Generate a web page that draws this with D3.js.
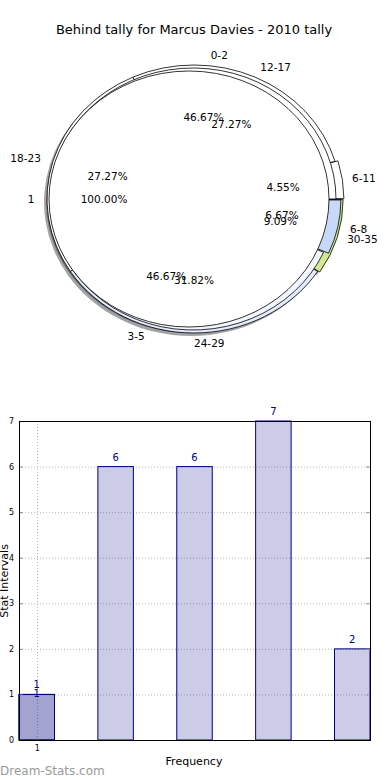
<!DOCTYPE html>
<html>
<head>
<meta charset="utf-8">
<script src="https://cdnjs.cloudflare.com/ajax/libs/d3/7.8.5/d3.min.js"></script>
<style>
  body { margin: 0; background: #fff; }
  svg { display: block; font-family: "DejaVu Sans", sans-serif; }
</style>
</head>
<body>
<div id="chart"></div>
<script>
const title = 'Behind tally for Marcus Davies - 2010 tally'

// pie rings (inner -> outer)
const innerLabels = ['1']
const innerValues = [1]
const midLabels = ['0-2', '3-5', '6-8']
const midValues = [7, 7, 1]
const outerLabels = ['6-11', '12-17', '18-23', '24-29', '30-35']
const outerValues = [1, 6, 6, 7, 2]

// bar chart
const barValues = [1, 6, 6, 7, 2]
const overlayValues = [1]
const xTickLabels = ['1']
const yTicks = [0, 1, 2, 3, 4, 5, 6, 7]
const xLabel = 'Frequency'
const yLabel = 'Stat Intervals'

const W = 390, H = 780
const navy = '#000080'

const svg = d3.select('#chart').append('svg')
  .attr('width', W)
  .attr('height', H)

svg.append('text')
  .attr('x', 194).attr('y', 34)
  .attr('text-anchor', 'middle')
  .attr('font-size', 13)
  .text(title)

// ---- pie ----
// layers drawn outermost first, each a full pie slightly smaller than the last
let layers = [
  {labels: outerLabels, values: outerValues, cx: 194, cy: 199, rx: 147, ry: 134,
    fills: ['#fff', '#fff', '#fff', '#e3ebfc', '#d3e98f'], explode: [0.02, 0, 0, 0, 0.015]},
  {labels: midLabels, values: midValues, cx: 193, cy: 199, rx: 143, ry: 131,
    fills: ['#fff', '#f3f6ff', '#c6d9f9'], explode: [0, 0, 0.035]},
  {labels: innerLabels, values: innerValues, cx: 189, cy: 199, rx: 140, ry: 128,
    fills: ['#fff'], explode: [0]}
]
// where the texts sit
let lab = {cx: 194, cy: 198.5, rx: 150, ry: 136}

let pie = d3.pie().sort(null).startAngle(Math.PI / 2).endAngle(Math.PI / 2 - 2 * Math.PI)
let arc = d3.arc().innerRadius(0).outerRadius(100)
let mid = d => (d.startAngle + d.endAngle) / 2

layers.forEach(l => { l.arcs = pie(l.values) })

let offset = (l, d, i) => {
  let a = mid(d), e = l.explode[i]
  return [l.cx + e * l.rx * Math.sin(a), l.cy - e * l.ry * Math.cos(a)]
}

// shadows under everything
let shadowG = svg.append('g')
layers.forEach(l => {
  shadowG.selectAll(null)
    .data(l.arcs)
    .enter()
    .append('path')
    .attr('d', arc)
    .attr('transform', (d, i) => {
      let [x, y] = offset(l, d, i)
      return `translate(${x - 3},${y + 3}) scale(${l.rx / 100},${l.ry / 100})`
    })
    .attr('fill', (d, i) => {
      let c = d3.rgb(l.fills[i])
      return d3.rgb(c.r * 0.3, c.g * 0.3, c.b * 0.3)
    })
    .attr('fill-opacity', 0.5)
})

layers.forEach(l => {
  svg.append('g').selectAll(null)
    .data(l.arcs)
    .enter()
    .append('path')
    .attr('d', arc)
    .attr('transform', (d, i) => {
      let [x, y] = offset(l, d, i)
      return `translate(${x},${y}) scale(${l.rx / 100},${l.ry / 100})`
    })
    .attr('fill', (d, i) => l.fills[i])
    .attr('stroke', '#000')
    .attr('stroke-width', 0.8)
    .attr('vector-effect', 'non-scaling-stroke')
})

let pct = d3.format('.2f')
layers.forEach(l => {
  let total = d3.sum(l.values)
  let g = svg.append('g').attr('font-size', 10.5)
  l.arcs.forEach((d, i) => {
    let a = mid(d), s = Math.sin(a), c = Math.cos(a)
    g.append('text')
      .attr('x', lab.cx + 1.064 * lab.rx * s)
      .attr('y', lab.cy - 1.064 * lab.ry * c)
      .attr('text-anchor', s > -1e-9 ? 'start' : 'end')
      .attr('dominant-baseline', 'central')
      .text(l.labels[i])
    g.append('text')
      .attr('x', lab.cx + 0.6 * lab.rx * s)
      .attr('y', lab.cy - 0.6 * lab.ry * c)
      .attr('text-anchor', 'middle')
      .attr('dominant-baseline', 'central')
      .text(pct(l.values[i] / total * 100) + '%')
  })
})

// ---- bar chart ----
let m = {left: 19, right: 370, top: 421, bottom: 740}
let barW = 0.45
let x = d3.scaleLinear().domain([0, barValues.length - 1 + barW]).range([m.left, m.right])
let y = d3.scaleLinear().domain([0, 7]).range([m.bottom, m.top])

let grid = svg.append('g')
  .attr('stroke', '#b8b8b8')
  .attr('stroke-dasharray', '1,2')
grid.selectAll(null)
  .data(yTicks.slice(1, -1))
  .enter()
  .append('line')
  .attr('x1', m.left).attr('x2', m.right)
  .attr('y1', d => y(d) + 0.5).attr('y2', d => y(d) + 0.5)
grid.selectAll(null)
  .data(xTickLabels)
  .enter()
  .append('line')
  .attr('x1', (d, i) => Math.round(x(i + barW / 2)) + 0.5)
  .attr('x2', (d, i) => Math.round(x(i + barW / 2)) + 0.5)
  .attr('y1', m.top).attr('y2', m.bottom)

svg.append('g').selectAll(null)
  .data(barValues)
  .enter()
  .append('rect')
  .attr('x', (d, i) => x(i))
  .attr('y', d => y(d))
  .attr('width', (d, i) => x(i + barW) - x(i))
  .attr('height', d => y(0) - y(d))
  .attr('fill', navy)
  .attr('fill-opacity', 0.2)
  .attr('stroke', navy)
  .attr('stroke-width', 1)

svg.append('g').selectAll(null)
  .data(overlayValues)
  .enter()
  .append('rect')
  .attr('x', (d, i) => x(i))
  .attr('y', d => y(d))
  .attr('width', (d, i) => x(i + barW) - x(i))
  .attr('height', d => y(0) - y(d))
  .attr('fill', navy)
  .attr('fill-opacity', 0.2)
  .attr('stroke', navy)
  .attr('stroke-width', 1)

let vals = svg.append('g')
  .attr('font-size', 10)
  .attr('fill', navy)
  .attr('text-anchor', 'middle')
vals.selectAll(null)
  .data(barValues)
  .enter()
  .append('text')
  .attr('x', (d, i) => x(i + barW / 2))
  .attr('y', d => y(d) - 6)
  .text(d => d)
vals.selectAll(null)
  .data(overlayValues)
  .enter()
  .append('text')
  .attr('x', (d, i) => x(i + barW / 2))
  .attr('y', d => y(d) + 3)
  .text(d => d)

// axes
let yAxis = svg.append('g')
  .attr('transform', `translate(${m.left},0)`)
  .call(d3.axisLeft(y).tickValues(yTicks).tickFormat(d3.format('d')).tickSize(-4).tickPadding(5))
yAxis.select('.domain').remove()
yAxis.selectAll('text').attr('font-size', 8).attr('font-family', 'DejaVu Sans').attr('fill', '#000')
yAxis.selectAll('line').attr('stroke', '#888')

let rAxis = svg.append('g')
  .attr('transform', `translate(${m.right},0)`)
  .call(d3.axisRight(y).tickValues(yTicks).tickSize(-4).tickFormat(''))
rAxis.select('.domain').remove()
rAxis.selectAll('line').attr('stroke', '#999')

let xAxis = svg.append('g')
  .attr('transform', `translate(0,${m.bottom})`)
  .call(d3.axisBottom(x)
    .tickValues(xTickLabels.map((d, i) => i + barW / 2))
    .tickFormat((d, i) => xTickLabels[i])
    .tickSize(-4).tickPadding(5))
xAxis.select('.domain').remove()
xAxis.selectAll('text').attr('font-size', 8).attr('font-family', 'DejaVu Sans').attr('fill', '#000')
xAxis.selectAll('line').attr('stroke', '#888')

svg.append('rect')
  .attr('x', m.left + 0.5).attr('y', m.top + 0.5)
  .attr('width', m.right - m.left).attr('height', m.bottom - m.top)
  .attr('fill', 'none')
  .attr('stroke', '#000')
  .attr('stroke-width', 1)

svg.append('text')
  .attr('x', 194).attr('y', 765)
  .attr('text-anchor', 'middle')
  .attr('font-size', 11)
  .text(xLabel)

svg.append('text')
  .attr('transform', 'translate(8,581) rotate(-90)')
  .attr('text-anchor', 'middle')
  .attr('font-size', 11)
  .text(yLabel)

svg.append('text')
  .attr('x', 0).attr('y', 775)
  .attr('font-size', 12)
  .attr('fill', '#999')
  .text('Dream-Stats.com')
</script>
</body>
</html>
